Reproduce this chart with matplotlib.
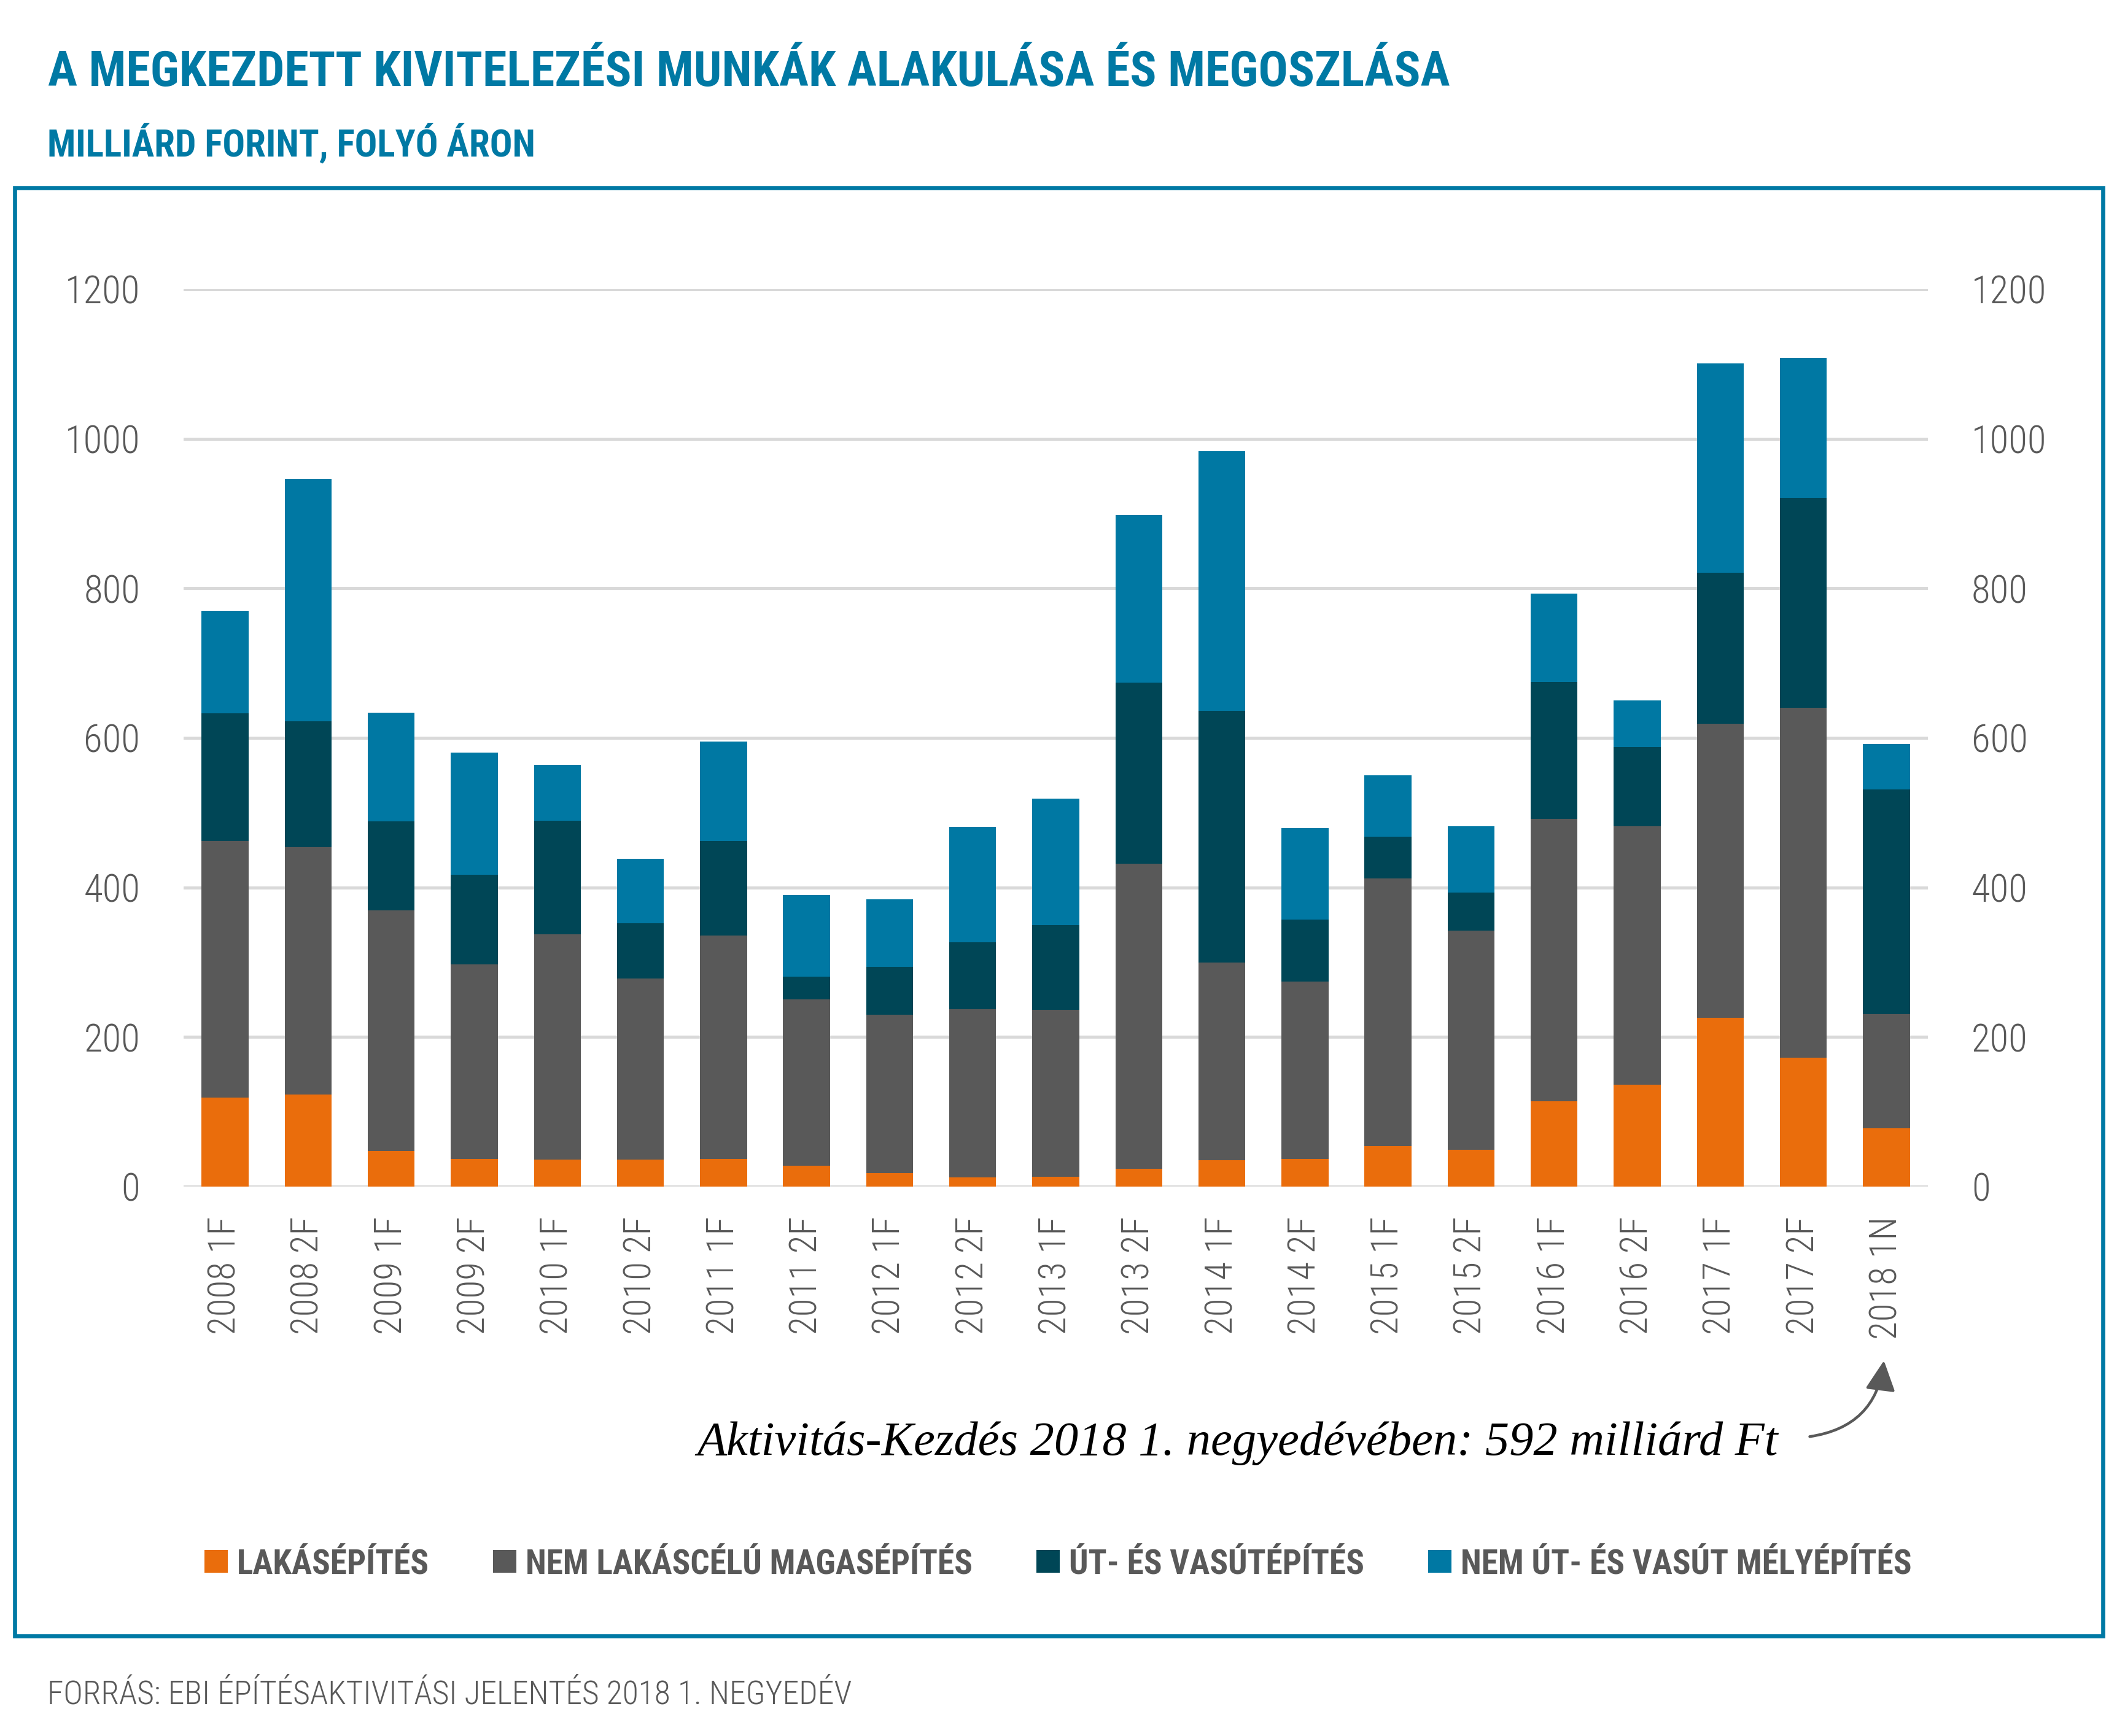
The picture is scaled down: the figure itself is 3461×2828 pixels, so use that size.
import matplotlib
matplotlib.use('Agg')
import matplotlib.pyplot as plt
from matplotlib import font_manager as fm
from matplotlib.patches import Rectangle, Patch
import numpy as np

# ---------------- data ----------------
categories = ['2008 1F', '2008 2F', '2009 1F', '2009 2F', '2010 1F', '2010 2F',
              '2011 1F', '2011 2F', '2012 1F', '2012 2F', '2013 1F', '2013 2F',
              '2014 1F', '2014 2F', '2015 1F', '2015 2F', '2016 1F', '2016 2F',
              '2017 1F', '2017 2F', '2018 1N']
lakasepites = [119, 123, 48, 37, 36, 36, 37, 28, 18, 12, 13, 24, 35, 37, 54, 49, 114, 136, 226, 172, 78]
nem_lakascelu = [343, 331, 321, 260, 301, 242, 299, 222, 212, 225, 223, 408, 265, 237, 358, 293, 378, 346, 393, 468, 153]
ut_vasut = [171, 168, 119, 120, 152, 74, 126, 31, 64, 90, 114, 242, 336, 83, 56, 51, 183, 106, 202, 281, 300]
nem_ut_vasut = [137, 324, 146, 163, 75, 86, 133, 109, 90, 154, 169, 224, 347, 122, 82, 89, 118, 62, 280, 187, 61]
series_labels = ['LAKÁSÉPÍTÉS', 'NEM LAKÁSCÉLÚ MAGASÉPÍTÉS', 'ÚT- ÉS VASÚTÉPÍTÉS', 'NEM ÚT- ÉS VASÚT MÉLYÉPÍTÉS']
yticks = [0, 200, 400, 600, 800, 1000, 1200]

title = 'A MEGKEZDETT KIVITELEZÉSI MUNKÁK ALAKULÁSA ÉS MEGOSZLÁSA'
subtitle = 'MILLIÁRD FORINT, FOLYÓ ÁRON'
source = 'FORRÁS: EBI ÉPÍTÉSAKTIVITÁSI JELENTÉS 2018 1. NEGYEDÉV'
note = 'Aktivitás-Kezdés 2018 1. negyedévében: 592 milliárd Ft'

# ---------------- style ----------------
C_ORANGE = '#EA6D0C'
C_GRAY = '#595959'
C_DARK = '#004656'
C_BLUE = '#0078A3'
C_TITLE = '#0079A4'
C_GRID = '#D9D9D9'
colors = [C_ORANGE, C_GRAY, C_DARK, C_BLUE]

names = {f.name for f in fm.fontManager.ttflist}
def pick(cands, default):
    for c in cands:
        if c in names:
            return c
    return default

COND = pick(['Roboto Condensed', 'Liberation Sans Narrow', 'DejaVu Sans Condensed',
             'Open Sans Condensed', 'Noto Sans Condensed'], 'DejaVu Sans')
HAND = pick(['Liberation Serif', 'DejaVu Serif'], 'DejaVu Serif')
plt.rcParams['font.family'] = [COND, 'DejaVu Sans']

W, H = 3462, 2828
DPI = 200
fig = plt.figure(figsize=(W / DPI, H / DPI), dpi=DPI)

def fx(px):
    return px / W

def fy(py):
    return 1 - py / H

ax = fig.add_axes([fx(299), fy(1933), fx(3140) - fx(299), fy(471) - fy(1933)])

x = np.arange(len(categories))
bw = 0.565
bottom = np.zeros(len(categories))
bars = []
for vals, col, lab in zip([lakasepites, nem_lakascelu, ut_vasut, nem_ut_vasut], colors, series_labels):
    b = ax.bar(x, vals, bw, bottom=bottom, color=col, label=lab, zorder=3, linewidth=0)
    bars.append(b)
    bottom = bottom + np.array(vals)

ax.set_xlim(-0.5, len(categories) - 0.5)
ax.set_ylim(0, 1200)
ax.set_yticks(yticks)
ax.set_xticks(x)
ax.set_xticklabels(categories, rotation=90, color=C_GRAY)
ax.yaxis.grid(True, color=C_GRID, linewidth=1.8, zorder=0)
ax.set_axisbelow(True)
for s in ax.spines.values():
    s.set_visible(False)
ax.tick_params(axis='x', length=0, pad=17.6, labelsize=20)
ax.tick_params(axis='y', length=0, pad=25.5, labelsize=20, labelcolor=C_GRAY,
               left=False, right=False, labelleft=True, labelright=True)
for t in ax.get_yticklabels():
    t.set_fontweight('light')
for t in ax.get_xticklabels():
    t.set_fontweight('light')

# frame
fig.add_artist(Rectangle((fx(24), fy(2665)), fx(3425) - fx(24), fy(306) - fy(2665),
                         transform=fig.transFigure, fill=False, edgecolor=C_TITLE,
                         linewidth=2.4, zorder=0))

# texts
t_title = fig.text(fx(78), fy(140), title, color=C_TITLE, fontweight='bold',
                   fontsize=40, va='baseline', ha='left')
t_sub = fig.text(fx(77), fy(255), subtitle, color=C_TITLE, fontweight='bold',
                 fontsize=28, va='baseline', ha='left')
t_src = fig.text(fx(77), fy(2775), source, color=C_GRAY, fontweight='light',
                 fontsize=28, va='baseline', ha='left')
t_note = fig.text(fx(1135), fy(2370), note, color='black', fontstyle='italic',
                  family=HAND, fontsize=28, va='baseline', ha='left')

fig.canvas.draw()
r = fig.canvas.get_renderer()

def fit(t, target):
    w = t.get_window_extent(r).width
    t.set_fontsize(t.get_fontsize() * target / w)

fit(t_title, 2286)
fit(t_sub, 795)
fit(t_src, 1314)
fit(t_note, 1760)

# tick label sizes
xl = ax.get_xticklabels()[0]
hlen = xl.get_window_extent(r).height
xs = 20 * 192 / hlen
yl = ax.get_yticklabels()[-1]
ylen = yl.get_window_extent(r).width
ys = 20 * 122 / ylen
ax.tick_params(axis='x', labelsize=xs)
ax.tick_params(axis='y', labelsize=ys)

# legend font size: total text width 2255 px
tmp = [fig.text(0, 0, s, fontsize=20, fontweight='bold') for s in series_labels]
tot = sum(t.get_window_extent(r).width for t in tmp)
for t in tmp:
    t.remove()
lfs = 20 * 2255 / tot
fpx = lfs * DPI / 72
handles = [Patch(facecolor=c, edgecolor='none') for c in colors]
leg = fig.legend(handles, series_labels, loc='center left',
                 bbox_to_anchor=(fx(333), fy(2548)), ncol=4, frameon=False,
                 prop={'weight': 'bold', 'size': lfs},
                 handlelength=38 / fpx, handleheight=37 / fpx,
                 handletextpad=15 / fpx, columnspacing=104 / fpx,
                 borderpad=0, borderaxespad=0)
for t in leg.get_texts():
    t.set_color(C_GRAY)

# arrow
fig.add_artist(matplotlib.patches.FancyArrowPatch(
    (2942, H - 2341), (3069, H - 2211), transform=None,
    arrowstyle='-|>,head_length=0.6,head_width=0.3', mutation_scale=25,
    connectionstyle='arc3,rad=0.4', color=C_GRAY, linewidth=1.6))

fig.savefig('out.png', dpi=DPI)
